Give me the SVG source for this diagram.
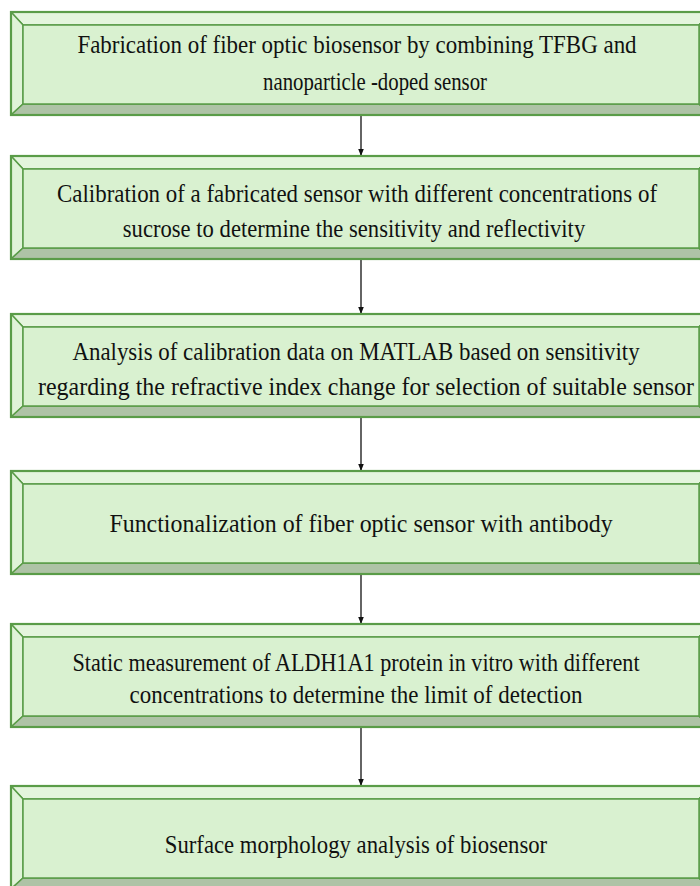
<svg xmlns="http://www.w3.org/2000/svg" xmlns:xlink="http://www.w3.org/1999/xlink" width="700" height="886" viewBox="0 0 700 886">
<style>
.face{fill:#d9f1d0;stroke:#5a9c48;stroke-width:1.5}
.top{fill:#e4f5dd;stroke:#5a9c48;stroke-width:1.5;stroke-linejoin:round}
.left{fill:#e0f3d8;stroke:#5a9c48;stroke-width:1.5;stroke-linejoin:round}
.bot{fill:#aec3a6;stroke:#5a9c48;stroke-width:1.5;stroke-linejoin:round}
.right{fill:#b9cfb1;stroke:#5a9c48;stroke-width:1.5;stroke-linejoin:round}
.outer{fill:none;stroke:#5a9c48;stroke-width:2.2}
.t{font-size:26px;fill:#111;text-anchor:middle}
.conn{stroke:#111;stroke-width:1.3;fill:none;marker-end:url(#ah)}
</style>
<defs>
<marker id="ah" viewBox="0 0 10 10" refX="10" refY="5" markerWidth="7" markerHeight="7" markerUnits="userSpaceOnUse" orient="auto">
<path d="M0,1 L10,5 L0,9 Z" fill="#111"/>
</marker>
<g id="bevel">
<polygon class="top" points="11,0 711,0 699,13 23,13"/>
<polygon class="left" points="11,0 23,13 23,92 11,103"/>
<polygon class="bot" points="11,103 23,92 699,92 711,103"/>
<polygon class="right" points="711,0 711,103 699,92 699,13"/>
<rect class="face" x="23" y="13" width="676" height="79"/>
<rect class="outer" x="11" y="0" width="700" height="103"/>
</g>
</defs>
<g id="connectors">
<line class="conn" x1="361" y1="116" x2="361" y2="156"/>
<line class="conn" x1="361" y1="260" x2="361" y2="314"/>
<line class="conn" x1="361" y1="418" x2="361" y2="471"/>
<line class="conn" x1="361" y1="575" x2="361" y2="624"/>
<line class="conn" x1="361" y1="728" x2="361" y2="786"/>
</g>
<g font-family="'Liberation Serif', 'DejaVu Serif', serif">
<g id="node1">
<use xlink:href="#bevel" href="#bevel" y="12"/>
<text class="t" transform="translate(357,53) scale(0.8,1)" textLength="699" lengthAdjust="spacingAndGlyphs">Fabrication of fiber optic biosensor by combining TFBG and</text>
<text class="t" transform="translate(375,90) scale(0.8,1)" textLength="280" lengthAdjust="spacingAndGlyphs">nanoparticle -doped sensor</text>
</g>
<g id="node2">
<use xlink:href="#bevel" href="#bevel" y="156"/>
<text class="t" transform="translate(357,202) scale(0.8,1)" textLength="750" lengthAdjust="spacingAndGlyphs">Calibration of a fabricated sensor with different concentrations of</text>
<text class="t" transform="translate(354,237) scale(0.8,1)" textLength="578" lengthAdjust="spacingAndGlyphs">sucrose to determine the sensitivity and reflectivity</text>
</g>
<g id="node3">
<use xlink:href="#bevel" href="#bevel" y="314"/>
<text class="t" transform="translate(356,360) scale(0.8,1)" textLength="709" lengthAdjust="spacingAndGlyphs">Analysis of calibration data on MATLAB based on sensitivity</text>
<text class="t" transform="translate(366,395) scale(0.8,1)" textLength="820" lengthAdjust="spacingAndGlyphs">regarding the refractive index change for selection of suitable sensor</text>
</g>
<g id="node4">
<use xlink:href="#bevel" href="#bevel" y="471"/>
<text class="t" transform="translate(361,532) scale(0.8,1)" textLength="629" lengthAdjust="spacingAndGlyphs">Functionalization of fiber optic sensor with antibody</text>
</g>
<g id="node5">
<use xlink:href="#bevel" href="#bevel" y="624"/>
<text class="t" transform="translate(356,671) scale(0.8,1)" textLength="709" lengthAdjust="spacingAndGlyphs">Static measurement of ALDH1A1 protein in vitro with different</text>
<text class="t" transform="translate(356,703) scale(0.8,1)" textLength="566" lengthAdjust="spacingAndGlyphs">concentrations to determine the limit of detection</text>
</g>
<g id="node6">
<use xlink:href="#bevel" href="#bevel" y="786"/>
<text class="t" transform="translate(356,853) scale(0.8,1)" textLength="478" lengthAdjust="spacingAndGlyphs">Surface morphology analysis of biosensor</text>
</g>
</g>
</svg>
